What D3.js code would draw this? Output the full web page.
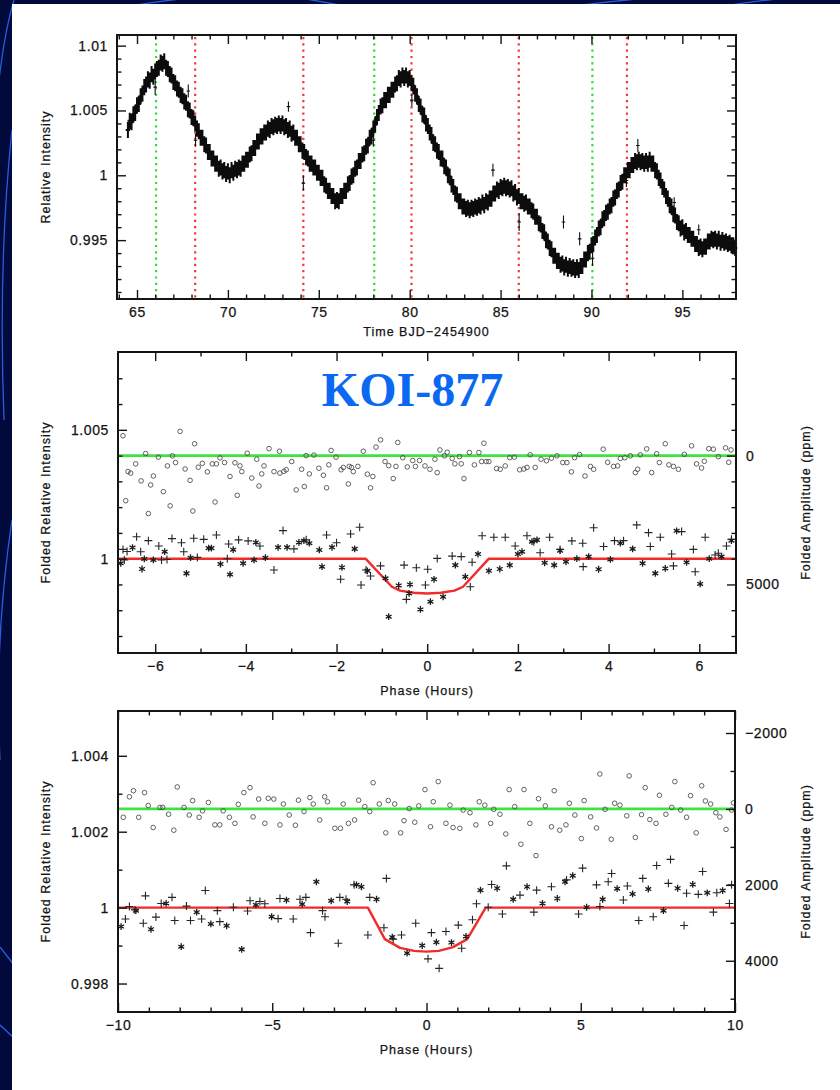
<!DOCTYPE html>
<html>
<head>
<meta charset="utf-8">
<script src="https://cdn.jsdelivr.net/npm/d3@7"></script>
<style>
  html, body { margin: 0; padding: 0; background: #020a3c; }
  svg { display: block; }
  text { font-family: "Liberation Sans", Arial, Helvetica, sans-serif; }
</style>
</head>
<body>
<svg id="fig" width="840" height="1090"></svg>
<script>
// ---------------- data ----------------
// Light curve: relative intensity, 0.1-day cadence starting at BJD-2454900 = 64.5
const lcStart = 64.5;
const lcCadence = 0.1;
const lcFlux = [
  1.0035, 1.0042, 1.0041, 1.0047, 1.0048,
  1.0054, 1.0055, 1.0061, 1.0063, 1.0068, 1.0070, 1.0074, 1.0073, 1.0078, 1.0076,
  1.0080, 1.0082, 1.0083, 1.0087, 1.0086, 1.0088, 1.0083, 1.0082, 1.0078, 1.0077,
  1.0072, 1.0071, 1.0067, 1.0066, 1.0062, 1.0061, 1.0057, 1.0056, 1.0051, 1.0050,
  1.0045, 1.0044, 1.0040, 1.0036, 1.0034, 1.0029, 1.0029, 1.0024, 1.0023, 1.0018,
  1.0018, 1.0013, 1.0013, 1.0009, 1.0009, 1.0005, 1.0006, 1.0003, 1.0004, 1.0001,
  1.0003, 1.0000, 1.0004, 1.0002, 1.0005, 1.0004, 1.0006, 1.0005, 1.0009, 1.0009,
  1.0012, 1.0012, 1.0016, 1.0017, 1.0021, 1.0021, 1.0026, 1.0026, 1.0030, 1.0030,
  1.0033, 1.0033, 1.0036, 1.0035, 1.0038, 1.0037, 1.0039, 1.0038, 1.0040, 1.0038,
  1.0040, 1.0037, 1.0038, 1.0035, 1.0036, 1.0032, 1.0033, 1.0029, 1.0029, 1.0024,
  1.0024, 1.0019, 1.0018, 1.0014, 1.0013, 1.0009, 1.0009, 1.0006, 1.0006, 1.0002,
  1.0002, 0.9998, 0.9998, 0.9993, 0.9992, 0.9988, 0.9988, 0.9984, 0.9984, 0.9980,
  0.9981, 0.9980, 0.9984, 0.9984, 0.9988, 0.9988, 0.9993, 0.9994, 0.9999, 1.0000,
  1.0005, 1.0006, 1.0011, 1.0011, 1.0016, 1.0017, 1.0022, 1.0023, 1.0029, 1.0030,
  1.0036, 1.0039, 1.0045, 1.0048, 1.0053, 1.0054, 1.0058, 1.0058, 1.0062, 1.0062,
  1.0066, 1.0066, 1.0070, 1.0071, 1.0075, 1.0074, 1.0077, 1.0075, 1.0077, 1.0074,
  1.0075, 1.0071, 1.0069, 1.0063, 1.0061, 1.0055, 1.0053, 1.0047, 1.0046, 1.0040,
  1.0038, 1.0033, 1.0031, 1.0025, 1.0024, 1.0019, 1.0018, 1.0013, 1.0013, 1.0007,
  1.0006, 1.0000, 0.9999, 0.9993, 0.9991, 0.9986, 0.9985, 0.9980, 0.9980, 0.9976,
  0.9976, 0.9974, 0.9975, 0.9973, 0.9975, 0.9974, 0.9976, 0.9975, 0.9977, 0.9976,
  0.9979, 0.9977, 0.9980, 0.9979, 0.9982, 0.9982, 0.9986, 0.9986, 0.9989, 0.9988,
  0.9991, 0.9990, 0.9992, 0.9990, 0.9991, 0.9989, 0.9990, 0.9986, 0.9987, 0.9983,
  0.9984, 0.9980, 0.9980, 0.9978, 0.9979, 0.9976, 0.9976, 0.9973, 0.9972, 0.9968,
  0.9968, 0.9963, 0.9962, 0.9957, 0.9956, 0.9950, 0.9949, 0.9944, 0.9943, 0.9938,
  0.9938, 0.9934, 0.9934, 0.9931, 0.9932, 0.9929, 0.9931, 0.9928, 0.9930, 0.9928,
  0.9929, 0.9927, 0.9929, 0.9927, 0.9930, 0.9930, 0.9935, 0.9935, 0.9940, 0.9941,
  0.9946, 0.9947, 0.9952, 0.9954, 0.9959, 0.9960, 0.9966, 0.9967, 0.9971, 0.9972,
  0.9976, 0.9977, 0.9982, 0.9983, 0.9988, 0.9989, 0.9994, 0.9995, 1.0000, 1.0000,
  1.0004, 1.0004, 1.0008, 1.0008, 1.0011, 1.0010, 1.0012, 1.0010, 1.0011, 1.0009,
  1.0011, 1.0009, 1.0012, 1.0009, 1.0009, 1.0004, 1.0003, 0.9998, 0.9996, 0.9991,
  0.9989, 0.9984, 0.9982, 0.9977, 0.9976, 0.9970, 0.9969, 0.9964, 0.9963, 0.9959,
  0.9960, 0.9956, 0.9957, 0.9954, 0.9954, 0.9951, 0.9951, 0.9947, 0.9947, 0.9944,
  0.9945, 0.9943, 0.9945, 0.9945, 0.9949, 0.9949, 0.9951, 0.9950, 0.9951, 0.9949,
  0.9951, 0.9948, 0.9950, 0.9948, 0.9949, 0.9947, 0.9948, 0.9946, 0.9946, 0.9944
];
const lcError = 0.00062;
// isolated samples with larger error bars: [time, flux, error]
const lcOutliers = [
  [66.00, 1.0068, 0.0006], [67.82, 1.0065, 0.0005], [68.22, 1.0027, 0.0005],
  [73.33, 1.0053, 0.0004], [74.15, 0.9994, 0.0006], [78.00, 1.0027, 0.0005],
  [80.12, 1.0058, 0.0005], [84.58, 1.0004, 0.0005], [86.02, 0.9964, 0.0007],
  [88.46, 0.9964, 0.0005], [89.35, 0.9951, 0.0005], [90.06, 0.9936, 0.0006],
  [91.92, 0.9996, 0.0005], [92.55, 1.0023, 0.0005], [94.55, 0.9979, 0.0004],
  [95.90, 0.9958, 0.0004]
];
const primaryTransits = [66.05, 78.05, 90.05];
const secondaryTransits = [68.2, 74.15, 80.1, 86.0, 91.95];

// Fold at the short period: [phase (h), value]
const midResidLevel = 1.004;
const midResiduals = [
  [-6.71,1.00477],[-6.65,1.00225],[-6.60,1.00338],[-6.54,1.00332],[-6.43,1.00368],[-6.31,1.00302],
  [-6.21,1.00408],[-6.15,1.00175],[-6.10,1.00286],[-6.04,1.00321],[-5.93,1.00394],[-5.82,1.00260],
  [-5.73,1.00360],[-5.67,1.00205],[-5.62,1.00399],[-5.55,1.00373],[-5.45,1.00494],[-5.34,1.00348],
  [-5.23,1.00304],[-5.17,1.00185],[-5.13,1.00446],[-5.05,1.00355],[-4.96,1.00370],[-4.85,1.00337],
  [-4.74,1.00368],[-4.68,1.00220],[-4.65,1.00368],[-4.57,1.00391],[-4.47,1.00373],[-4.35,1.00319],
  [-4.24,1.00372],[-4.19,1.00246],[-4.13,1.00360],[-4.09,1.00338],[-3.97,1.00409],[-3.87,1.00313],
  [-3.76,1.00386],[-3.71,1.00282],[-3.65,1.00329],[-3.60,1.00360],[-3.49,1.00427],[-3.38,1.00338],
  [-3.26,1.00417],[-3.25,1.00332],[-3.16,1.00339],[-3.11,1.00345],[-2.99,1.00377],[-2.89,1.00267],
  [-2.77,1.00347],[-2.71,1.00280],[-2.67,1.00400],[-2.60,1.00329],[-2.50,1.00402],[-2.39,1.00351],
  [-2.29,1.00324],[-2.22,1.00275],[-2.17,1.00364],[-2.12,1.00420],[-2.01,1.00394],[-1.90,1.00345],
  [-1.85,1.00354],[-1.74,1.00290],[-1.72,1.00358],[-1.67,1.00354],[-1.63,1.00338],[-1.53,1.00358],
  [-1.41,1.00417],[-1.32,1.00328],[-1.25,1.00275],[-1.20,1.00319],[-1.13,1.00433],[-1.03,1.00461],
  [-0.93,1.00377],[-0.85,1.00361],[-0.75,1.00311],[-0.69,1.00358],[-0.65,1.00451],[-0.54,1.00392],
  [-0.44,1.00356],[-0.32,1.00381],[-0.26,1.00358],[-0.17,1.00381],[-0.05,1.00360],[0.06,1.00347],
  [0.17,1.00386],[0.22,1.00334],[0.28,1.00422],[0.38,1.00399],[0.44,1.00413],[0.55,1.00389],
  [0.61,1.00368],[0.71,1.00396],[0.75,1.00368],[0.81,1.00311],[0.93,1.00412],[1.04,1.00364],
  [1.14,1.00412],[1.20,1.00377],[1.25,1.00448],[1.30,1.00377],[1.36,1.00377],[1.53,1.00350],
  [1.61,1.00347],[1.72,1.00360],[1.82,1.00392],[1.92,1.00394],[2.04,1.00345],[2.13,1.00348],
  [2.20,1.00354],[2.27,1.00403],[2.38,1.00354],[2.51,1.00386],[2.63,1.00380],[2.74,1.00390],
  [2.86,1.00399],[2.99,1.00373],[3.08,1.00373],[3.18,1.00337],[3.25,1.00392],[3.36,1.00404],
  [3.48,1.00321],[3.60,1.00358],[3.67,1.00347],[3.88,1.00425],[3.98,1.00374],[4.11,1.00358],
  [4.20,1.00360],[4.26,1.00389],[4.36,1.00392],[4.48,1.00399],[4.59,1.00334],[4.64,1.00347],
  [4.70,1.00403],[4.84,1.00426],[4.95,1.00334],[5.06,1.00407],[5.12,1.00373],[5.25,1.00446],
  [5.33,1.00364],[5.43,1.00358],[5.54,1.00347],[5.67,1.00405],[5.83,1.00438],[5.94,1.00368],
  [6.05,1.00352],[6.11,1.00378],[6.21,1.00427],[6.31,1.00425],[6.42,1.00396],[6.58,1.00430],
  [6.65,1.00374],[6.70,1.00422]
];
const midPlus = [
  [-6.71,1.00036],[-6.68,0.99995],[-6.62,1.00028],[-6.41,1.00085],[-6.32,1.00027],[-6.15,1.00070],
  [-5.92,1.00049],[-5.86,0.99995],[-5.74,0.99997],[-5.63,1.00078],[-5.42,1.00062],[-5.37,1.00027],
  [-5.15,1.00079],[-5.07,1.00005],[-4.93,1.00075],[-4.65,1.00092],[-4.41,1.00000],[-4.38,1.00057],
  [-4.16,1.00073],[-3.95,1.00069],[-3.69,1.00049],[-3.38,0.99956],[-3.18,1.00109],[-2.94,1.00038],
  [-2.67,1.00073],[-2.22,1.00092],[-2.00,1.00062],[-1.91,0.99920],[-1.69,1.00096],[-1.49,1.00122],
  [-1.46,0.99898],[-1.35,0.99956],[-1.25,0.99933],[-1.03,0.99972],[-0.51,0.99975],[-0.46,0.99842],
  [-0.24,0.99965],[-0.04,0.99898],[0.01,0.99959],[0.22,1.00001],
  [0.55,1.00010],[0.75,1.00008],[0.95,0.99891],[0.99,0.99986],[1.21,1.00089],[1.47,1.00083],
  [1.72,1.00083],[1.94,1.00049],[2.20,1.00089],[2.35,1.00066],[2.49,1.00023],[2.70,1.00083],
  [2.93,1.00036],[3.19,1.00069],[3.43,1.00060],[3.44,0.99969],[3.67,1.00120],[3.89,1.00047],
  [4.13,1.00070],[4.33,1.00070],[4.62,1.00131],[4.88,1.00101],[4.92,1.00047],[5.14,1.00083],
  [5.39,1.00018],[5.43,0.99972],[5.61,1.00105],[5.87,1.00036],[5.91,0.99949],[6.13,1.00083],
  [6.35,1.00014],[6.42,1.00021],[6.60,1.00049],[6.71,1.00075]
];
const midStar = [
  [-6.76,0.99982],[-6.50,1.00043],[-6.29,0.99960],[-6.24,0.99999],[-6.04,0.99995],[-5.79,1.00027],
  [-5.31,0.99943],[-5.22,1.00004],[-4.82,1.00041],[-4.76,1.00041],[-4.56,0.99979],[-4.35,0.99939],
  [-4.28,1.00035],[-4.06,0.99982],[-3.82,0.99995],[-3.78,1.00063],[-3.57,1.00004],[-3.29,1.00044],
  [-3.09,1.00044],[-2.83,1.00063],[-2.72,1.00070],[-2.60,1.00060],[-2.38,1.00034],[-2.32,0.99969],
  [-2.10,1.00044],[-1.88,0.99966],[-1.60,1.00038],[-1.32,0.99953],[-0.92,0.99924],[-0.85,0.99775],
  [-0.63,0.99896],[-0.40,0.99865],[-0.38,0.99900],[-0.15,0.99803],[0.07,0.99833],[0.15,0.99920],
  [0.35,0.99852],[0.62,0.99975],[0.84,0.99930],[1.12,1.00018],[1.36,0.99953],[1.60,0.99960],
  [1.82,0.99975],[2.00,1.00018],[2.09,1.00027],[2.31,1.00066],[2.42,1.00073],[2.59,0.99984],
  [2.80,0.99975],[2.93,1.00031],[3.06,0.99988],[3.30,1.00000],[3.56,1.00008],[3.78,0.99959],
  [4.04,0.99997],[4.26,1.00060],[4.53,1.00038],[4.75,0.99982],[5.03,0.99943],[5.25,0.99962],
  [5.50,1.00108],[5.72,0.99986],[6.02,0.99902],[6.22,1.00000],[6.49,1.00008],[6.71,1.00070]
];
const midModel = [
  [-6.82,1],[-1.36,1],[-0.78,0.99891],[-0.60,0.99876],[-0.30,0.99868],[0,0.99865],
  [0.30,0.99868],[0.60,0.99876],[0.79,0.99891],[1.36,1],[6.81,1]
];

// Fold at the long period
const botResidLevel = 1.0026;
const botResiduals = [
  [-9.83,1.00238],[-9.63,1.00292],[-9.50,1.00308],[-9.33,1.00238],[-9.14,1.00303],[-9.02,1.00269],
  [-8.86,1.00211],[-8.64,1.00264],[-8.55,1.00264],[-8.36,1.00246],[-8.19,1.00204],[-8.08,1.00318],
  [-7.86,1.00264],[-7.69,1.00244],[-7.58,1.00282],[-7.37,1.00238],[-7.26,1.00255],[-7.07,1.00277],
  [-6.86,1.00218],[-6.70,1.00218],[-6.59,1.00255],[-6.39,1.00238],[-6.21,1.00222],[-6.10,1.00272],
  [-5.92,1.00303],[-5.72,1.00316],[-5.62,1.00239],[-5.44,1.00286],[-5.24,1.00222],[-5.13,1.00288],
  [-4.95,1.00286],[-4.75,1.00218],[-4.64,1.00273],[-4.45,1.00244],[-4.25,1.00217],[-4.15,1.00283],
  [-3.97,1.00253],[-3.78,1.00290],[-3.67,1.00273],[-3.46,1.00231],[-3.30,1.00292],[-3.21,1.00279],
  [-2.97,1.00209],[-2.79,1.00209],[-2.70,1.00273],[-2.53,1.00222],[-2.33,1.00231],[-2.20,1.00283],
  [-2.00,1.00266],[-1.84,1.00253],[-1.73,1.00329],[-1.53,1.00273],[-1.32,1.00197],[-1.24,1.00282],
  [-1.03,1.00273],[-0.84,1.00197],[-0.73,1.00229],[-0.56,1.00261],[-0.38,1.00225],[-0.25,1.00268],
  [-0.05,1.00311],[0.13,1.00213],[0.22,1.00279],[0.38,1.00332],[0.63,1.00222],[0.76,1.00270],
  [0.86,1.00211],[1.08,1.00209],[1.19,1.00257],[1.41,1.00250],[1.60,1.00218],[1.71,1.00279],
  [1.89,1.00270],[2.08,1.00222],[2.18,1.00259],[2.38,1.00246],[2.57,1.00194],[2.68,1.00311],
  [2.86,1.00266],[3.06,1.00167],[3.16,1.00311],[3.35,1.00222],[3.55,1.00137],[3.63,1.00287],
  [3.85,1.00268],[4.05,1.00213],[4.14,1.00308],[4.32,1.00204],[4.52,1.00218],[4.63,1.00275],
  [4.81,1.00244],[5.02,1.00182],[5.11,1.00282],[5.32,1.00239],[5.51,1.00210],[5.62,1.00352],
  [5.79,1.00259],[5.99,1.00180],[6.10,1.00275],[6.27,1.00270],[6.49,1.00242],[6.57,1.00347],
  [6.77,1.00185],[6.97,1.00245],[7.09,1.00316],[7.24,1.00232],[7.44,1.00222],[7.55,1.00296],
  [7.76,1.00246],[7.95,1.00264],[8.05,1.00332],[8.24,1.00257],[8.43,1.00238],[8.56,1.00295],
  [8.74,1.00197],[8.92,1.00321],[9.04,1.00281],[9.21,1.00273],[9.38,1.00250],[9.51,1.00239],
  [9.71,1.00206],[9.89,1.00257],[9.95,1.00276]
];
const botPlus = [
  [-9.76,0.99970],[-9.63,1.00003],[-9.45,0.99994],[-9.18,0.99959],[-9.11,1.00031],[-8.77,0.99975],
  [-8.60,1.00011],[-8.25,1.00027],[-8.16,0.99966],[-7.78,1.00004],[-7.65,0.99966],[-7.29,0.99970],
  [-7.17,1.00045],[-6.78,0.99992],[-6.70,0.99963],[-6.26,1.00001],[-5.80,0.99991],[-5.72,1.00018],
  [-5.40,1.00016],[-5.24,1.00010],[-4.81,0.99971],[-4.75,1.00024],[-4.32,0.99970],[-4.10,1.00022],
  [-3.91,1.00027],[-3.76,0.99934],[-3.37,0.99992],[-3.29,0.99976],[-2.86,0.99906],[-2.81,1.00027],
  [-2.61,1.00022],[-2.35,1.00060],[-1.90,0.99928],[-1.84,1.00027],[-1.38,0.99947],[-1.30,1.00077],
  [-1.08,0.99917],[-0.81,0.99928],[-0.35,0.99959],[0.05,0.99865],[0.16,0.99934],[0.41,0.99840],
  [0.63,0.99937],[1.03,0.99954],[1.14,0.99893],[1.49,0.99968],[1.62,1.00010],[2.00,1.00001],
  [2.11,1.00061],[2.46,0.99983],[2.59,1.00110],[3.03,1.00033],[3.48,0.99988],[3.57,1.00046],
  [4.05,1.00055],[4.54,1.00073],[4.93,0.99983],[5.06,1.00104],[5.51,1.00060],[5.62,1.00003],
  [5.89,1.00068],[6.00,1.00090],[6.38,1.00020],[6.51,1.00057],[6.88,0.99966],[7.01,1.00077],
  [7.35,0.99976],[7.46,1.00111],[7.84,1.00064],[7.91,1.00127],[8.35,0.99953],[8.43,1.00038],
  [8.81,1.00035],[8.95,1.00095],[9.30,0.99988],[9.41,1.00039],[9.82,1.00011],[9.89,1.00060]
];
const botStar = [
  [-9.90,0.99950],[-9.42,0.99992],[-8.93,0.99943],[-8.44,1.00011],[-7.95,0.99897],[-7.45,0.99988],
  [-6.99,0.99957],[-6.48,0.99952],[-5.99,0.99890],[-5.53,1.00007],[-5.02,0.99976],[-4.54,1.00020],
  [-4.03,1.00009],[-3.57,1.00068],[-3.09,1.00018],[-2.57,1.00016],[-2.27,1.00060],[-2.11,1.00055],
  [-1.62,1.00022],[-1.11,0.99922],[-0.63,0.99880],[-0.14,0.99900],[0.32,0.99909],[0.81,0.99908],
  [1.28,0.99924],[1.75,1.00046],[2.29,1.00051],[2.81,1.00022],[3.26,1.00055],[3.76,1.00011],
  [4.24,1.00024],[4.49,1.00068],[4.74,1.00084],[5.19,1.00001],[5.71,1.00022],[6.18,1.00050],
  [6.68,1.00036],[7.19,1.00049],[7.68,0.99992],[8.14,1.00051],[8.63,1.00061],[9.10,1.00039],
  [9.60,1.00045]
];
const botModel = [
  [-10,1],[-1.90,1],[-1.35,0.99917],[-0.86,0.99894],[-0.40,0.99886],[0,0.99884],
  [0.40,0.99886],[0.86,0.99896],[1.32,0.99917],[1.92,1],[10,1]
];

// Tick values
const topXTicks = [65, 70, 75, 80, 85, 90, 95];
const topYTicks = [0.995, 1, 1.005, 1.01];
const midXTicks = [-6, -4, -2, 0, 2, 4, 6];
const midYTicks = [1, 1.005];
const midPpmTicks = [0, 5000];
const botXTicks = [-10, -5, 0, 5, 10];
const botYTicks = [0.998, 1, 1.002, 1.004];
const botPpmTicks = [-2000, 0, 2000, 4000];

// ---------------- drawing ----------------
const svg = d3.select("#fig");
const W = 840, H = 1090;

// slide background with decorative arcs, then the white sheet
svg.append("rect").attr("width", W).attr("height", H).attr("fill", "#020a3c");
const deco = svg.append("g").attr("fill", "none").attr("stroke", "#2a5de0").attr("stroke-width", 1.3);
[
  "M14,0 Q2,40 -4,110",
  "M12,130 Q-2,260 4,420",
  "M12,520 Q-6,640 0,760",
  "M0,947 L14,965",
  "M0,1025 L14,1038",
  "M300,-2 Q330,3 355,8",
  "M560,8 Q600,2 650,-2",
  "M725,6 Q760,0 800,-3",
  "M120,8 Q150,2 190,-2"
].forEach(d => deco.append("path").attr("d", d));
svg.append("rect").attr("x", 12).attr("y", 4).attr("width", W - 12).attr("height", H - 4).attr("fill", "#ffffff");

const fmtDec = d => String(+d.toFixed(4));
const fmtInt = d3.format("d");
const INK = "#141414";

function axes(g, P, x, y, opt) {
  const major = 9, minor = 4.5;
  const style = s => s.call(a => a.select(".domain").remove())
    .call(a => a.selectAll(".tick line").attr("stroke", INK).attr("stroke-width", 1.4))
    .call(a => a.selectAll(".tick text").attr("fill", INK).attr("font-size", 14).attr("letter-spacing", 0.6)
      .attr("stroke", INK).attr("stroke-width", 0.25));
  // bottom
  g.append("g").attr("transform", `translate(0,${P.y1})`)
    .call(d3.axisBottom(x).tickValues(opt.xMajor).tickSize(-major).tickPadding(8).tickFormat(fmtInt)).call(style);
  g.append("g").attr("transform", `translate(0,${P.y1})`)
    .call(d3.axisBottom(x).tickValues(opt.xMinor).tickSize(-minor).tickFormat("")).call(style);
  // top
  g.append("g").attr("transform", `translate(0,${P.y0})`)
    .call(d3.axisTop(x).tickValues(opt.xMajor).tickSize(-major).tickFormat("")).call(style);
  g.append("g").attr("transform", `translate(0,${P.y0})`)
    .call(d3.axisTop(x).tickValues(opt.xMinor).tickSize(-minor).tickFormat("")).call(style);
  // left
  g.append("g").attr("transform", `translate(${P.x0},0)`)
    .call(d3.axisLeft(y).tickValues(opt.yMajor).tickSize(-major).tickPadding(9).tickFormat(fmtDec)).call(style);
  g.append("g").attr("transform", `translate(${P.x0},0)`)
    .call(d3.axisLeft(y).tickValues(opt.yMinor).tickSize(-minor).tickFormat("")).call(style);
  // right
  const yr = opt.yRight || y;
  const rMajor = opt.yRight ? opt.rMajor : opt.yMajor;
  const rMinor = opt.yRight ? opt.rMinor : opt.yMinor;
  g.append("g").attr("transform", `translate(${P.x1},0)`)
    .call(d3.axisRight(yr).tickValues(rMajor).tickSize(-major).tickPadding(10)
      .tickFormat(opt.yRight ? fmtInt : "")).call(style);
  g.append("g").attr("transform", `translate(${P.x1},0)`)
    .call(d3.axisRight(yr).tickValues(rMinor).tickSize(-minor).tickFormat("")).call(style);
  // frame
  g.append("rect").attr("x", P.x0).attr("y", P.y0).attr("width", P.x1 - P.x0).attr("height", P.y1 - P.y0)
    .attr("fill", "none").attr("stroke", INK).attr("stroke-width", 2);
  // titles
  const lab = (sel) => sel.attr("fill", INK).attr("font-size", 12.5).attr("letter-spacing", 1)
    .attr("stroke", INK).attr("stroke-width", 0.25);
  g.append("text").attr("x", (P.x0 + P.x1) / 2).attr("y", P.y1 + opt.xTitleDy)
    .attr("text-anchor", "middle").text(opt.xTitle).call(lab);
  g.append("text").attr("transform", `translate(50,${(P.y0 + P.y1) / 2}) rotate(-90)`)
    .attr("text-anchor", "middle").text(opt.yTitle).call(lab);
  if (opt.rTitle) {
    g.append("text").attr("transform", `translate(810,${(P.y0 + P.y1) / 2}) rotate(-90)`)
      .attr("text-anchor", "middle").text(opt.rTitle).call(lab);
  }
}

const marker = {
  plus: "M-4,0H4M0,-4V4",
  star: "M0,-3.4V3.4M-2.94,-1.7L2.94,1.7M-2.94,1.7L2.94,-1.7"
};

function foldedPanel(P, xDom, yDom, level, resid, plus, star, model, ticks) {
  const g = svg.append("g");
  const x = d3.scaleLinear().domain(xDom).range([P.x0, P.x1]);
  const y = d3.scaleLinear().domain(yDom).range([P.y1, P.y0]);
  const yPpm = d3.scaleLinear().domain([(level - yDom[0]) * 1e6, (level - yDom[1]) * 1e6]).range([P.y1, P.y0]);
  const line = d3.line().x(d => x(d[0])).y(d => y(d[1]));

  g.append("line").attr("x1", P.x0).attr("x2", P.x1).attr("y1", y(level)).attr("y2", y(level))
    .attr("stroke", "#3fe33f").attr("stroke-width", 2.8);
  g.append("path").attr("d", line(model)).attr("fill", "none")
    .attr("stroke", "#f22a2a").attr("stroke-width", 2.4).attr("stroke-linejoin", "round");

  g.append("g").selectAll("circle").data(resid).join("circle")
    .attr("cx", d => x(d[0])).attr("cy", d => y(d[1])).attr("r", 2.3)
    .attr("fill", "none").attr("stroke", "#505050").attr("stroke-width", 0.9);
  g.append("g").selectAll("path").data(plus).join("path")
    .attr("d", marker.plus).attr("transform", d => `translate(${x(d[0])},${y(d[1])})`)
    .attr("fill", "none").attr("stroke", "#262626").attr("stroke-width", 1.1);
  g.append("g").selectAll("path").data(star).join("path")
    .attr("d", marker.star).attr("transform", d => `translate(${x(d[0])},${y(d[1])})`)
    .attr("fill", "none").attr("stroke", "#1c1c1c").attr("stroke-width", 1.3);

  axes(g, P, x, y, Object.assign({ yRight: yPpm, xTitle: "Phase (Hours)",
    yTitle: "Folded Relative Intensity", rTitle: "Folded Amplitude (ppm)", xTitleDy: 42 }, ticks));
  return { x, y };
}

// ---- panel 1: light curve ----
(function () {
  const P = { x0: 117, x1: 736, y0: 35, y1: 299 };
  const g = svg.append("g");
  const x = d3.scaleLinear().domain([63.9, 97.95]).range([P.x0, P.x1]);
  const y = d3.scaleLinear().domain([0.99046, 1.01082]).range([P.y1, P.y0]);

  const dotted = (t, c) => g.append("line").attr("x1", x(t)).attr("x2", x(t))
    .attr("y1", P.y0 + 2).attr("y2", P.y1).attr("stroke", c).attr("stroke-width", 2.2)
    .attr("stroke-dasharray", "2.2,4.1");
  primaryTransits.forEach(t => dotted(t, "#33dd33"));
  secondaryTransits.forEach(t => dotted(t, "#f03a3a"));

  // error bars with a short horizontal mark at each sample
  const samples = lcFlux.map((f, i) => [lcStart + i * lcCadence, f, lcError]);
  const bars = samples.map(([t, f, e]) => {
    const px = x(t), py = y(f);
    return `M${px},${y(f + e)}V${y(f - e)}M${px - 2.2},${py}H${px + 2.2}`;
  }).join("");
  g.append("path").attr("d", bars).attr("fill", "none").attr("stroke", "#0c0c0c").attr("stroke-width", 2.0);

  const outl = lcOutliers.map(([t, f, e]) => {
    const px = x(t), py = y(f);
    return `M${px},${y(f + e)}V${y(f - e)}M${px - 1.8},${py}H${px + 1.8}`;
  }).join("");
  g.append("path").attr("d", outl).attr("fill", "none").attr("stroke", "#111").attr("stroke-width", 1.1);

  axes(g, P, x, y, {
    xMajor: topXTicks, xMinor: d3.range(64, 98).filter(v => v % 5 !== 0),
    yMajor: topYTicks, yMinor: d3.range(991, 1011).filter(v => v % 5 !== 0).map(v => v / 1000),
    xTitle: "Time BJD\u22122454900", yTitle: "Relative Intensity", xTitleDy: 37
  });
})();

// ---- panel 2: fold at short period ----
foldedPanel({ x0: 118, x1: 736, y0: 352, y1: 653 }, [-6.82, 6.81], [0.99634, 1.00802], midResidLevel,
  midResiduals, midPlus, midStar, midModel, {
    xMajor: midXTicks, xMinor: d3.range(-6, 7).filter(v => v % 2 !== 0),
    yMajor: midYTicks, yMinor: d3.range(997, 1008).filter(v => v % 5 !== 0).map(v => v / 1000),
    rMajor: midPpmTicks, rMinor: d3.range(-3000, 8000, 1000).filter(v => v % 5000 !== 0)
  });

svg.append("text").attr("x", 412.5).attr("y", 405.5).attr("text-anchor", "middle")
  .style("font-family", "'Liberation Serif','Times New Roman',Times,serif").style("font-weight", "bold")
  .style("font-size", "48px").attr("fill", "#0a68f2").text("KOI-877");

// ---- panel 3: fold at long period ----
foldedPanel({ x0: 118, x1: 735, y0: 711, y1: 1012 }, [-10, 10], [0.99725, 1.00518], botResidLevel,
  botResiduals, botPlus, botStar, botModel, {
    xMajor: botXTicks, xMinor: d3.range(-9, 10).filter(v => v % 5 !== 0),
    yMajor: botYTicks, yMinor: d3.range(998, 1006, 2).map(v => (v + 1) / 1000).filter(v => v < 1.005),
    rMajor: botPpmTicks, rMinor: d3.range(-1000, 6000, 2000)
  });
</script>
</body>
</html>
